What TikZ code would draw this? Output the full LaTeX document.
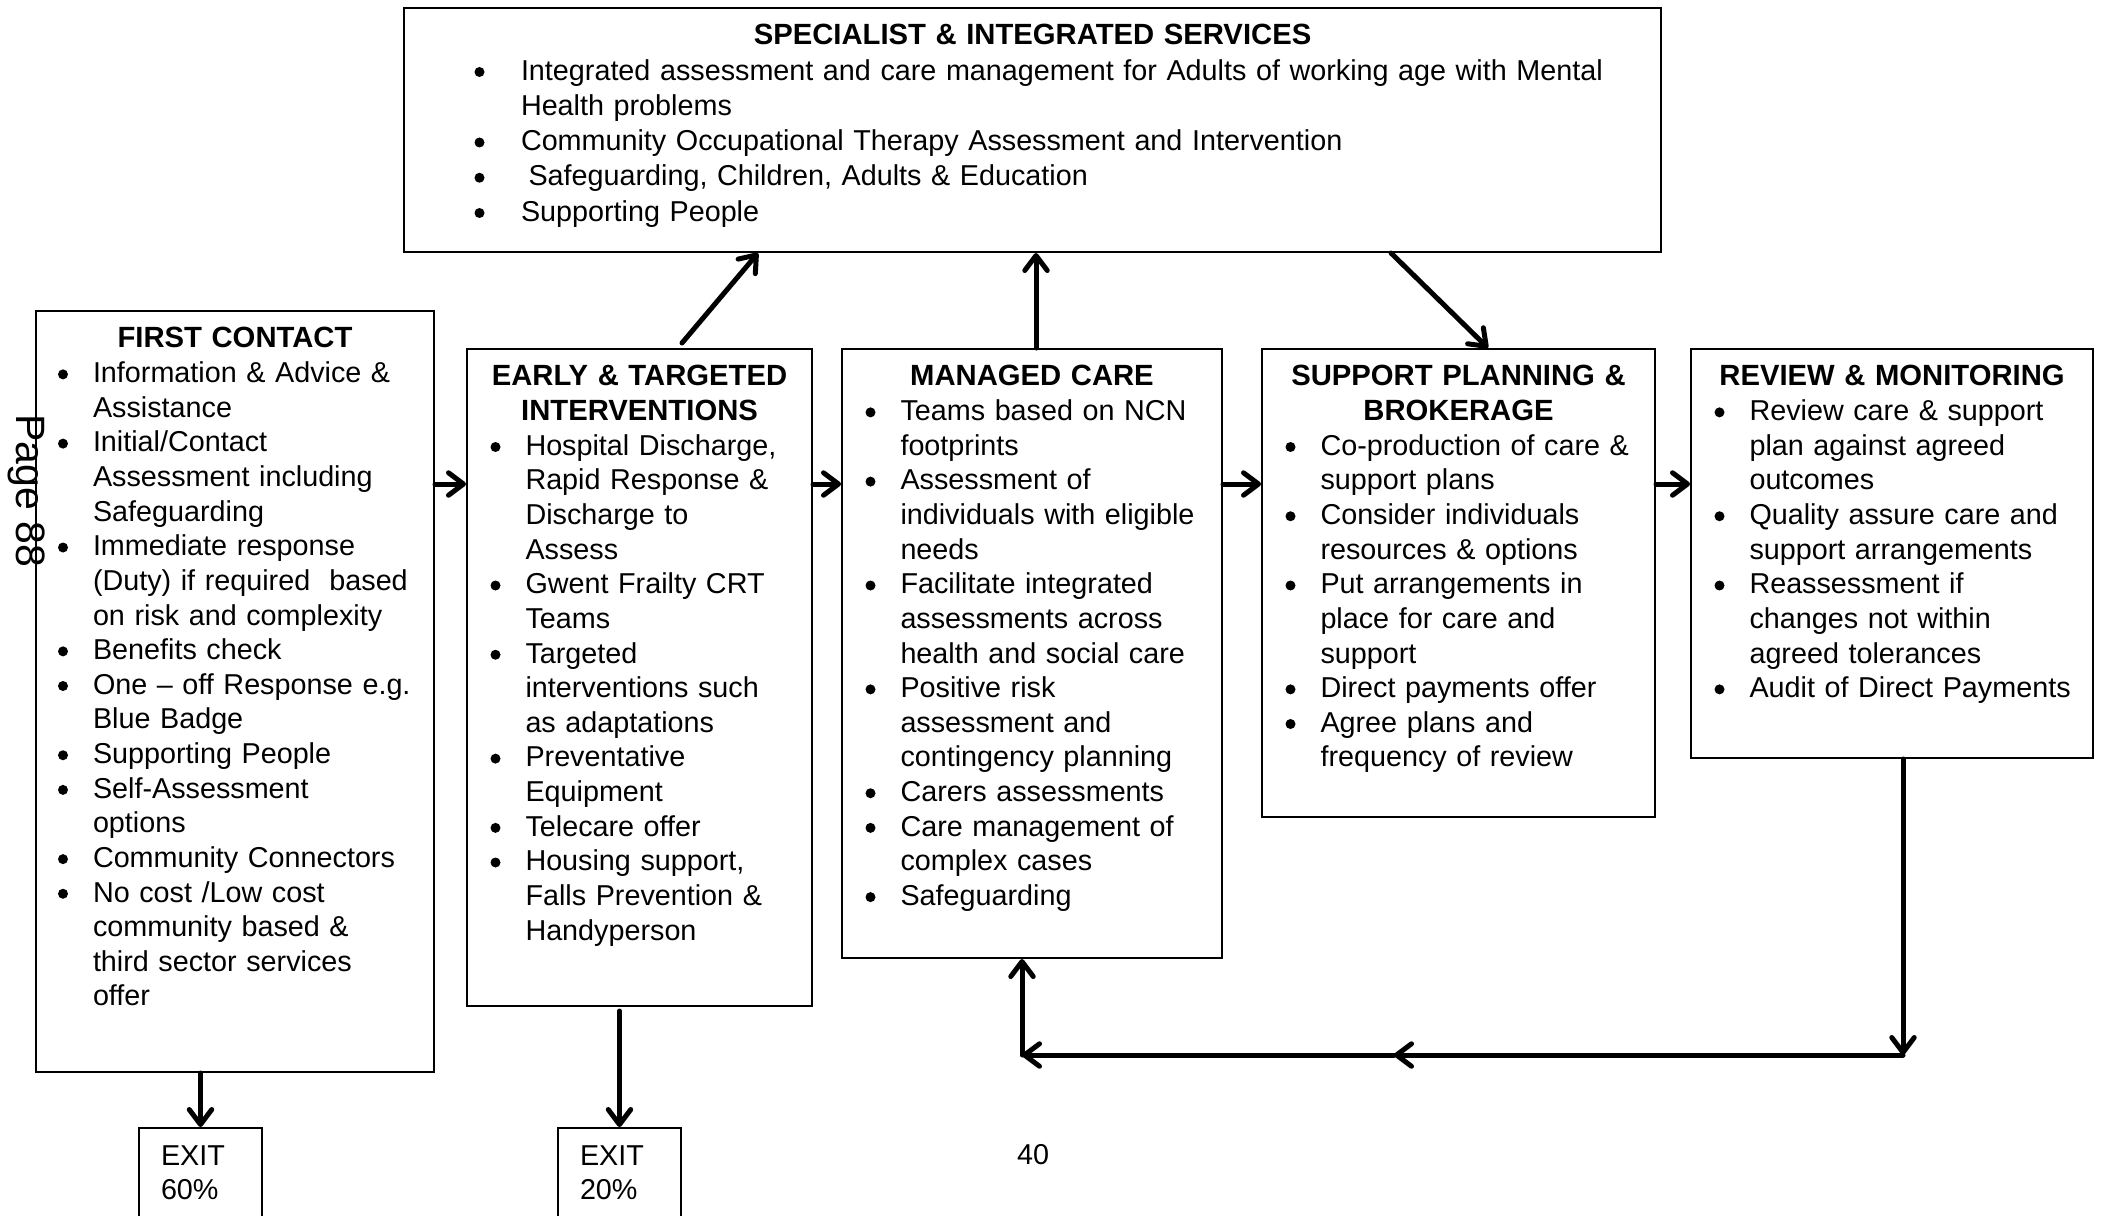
\documentclass[tikz,border=0pt]{standalone}
\usepackage{fontspec}
\setmainfont{Liberation Sans}
\usepackage{enumitem}
\usetikzlibrary{arrows.meta,calc,positioning}
\newcommand{\bigdot}{\raisebox{1.3pt}{\tikz\fill (0,0) circle (2pt);}}
\setlist[itemize]{label=\bigdot, leftmargin=21.4pt, labelsep=10pt, itemsep=0pt, topsep=0pt, parsep=0pt, partopsep=0pt}
\newcommand{\boxtitle}[1]{{\centering\fontsize{11.7}{13.85}\selectfont\bfseries\strut #1\par}}

\begin{document}
\begin{tikzpicture}[x=0.4pt, y=-0.4pt, >={Straight Barb[round,length=6pt,width=9pt]},
    box/.style={draw, line width=0.8pt, inner sep=0pt, anchor=north west},
    boxtext/.style={anchor=north, inner sep=0pt, align=left, yshift=-5.3pt, font=\fontsize{11.5}{13.85}\selectfont},
    exitbox/.style={draw, line width=0.8pt, anchor=north west, align=left, text width=31.6pt, inner xsep=8.8pt, inner ysep=7pt, font=\fontsize{11.5}{13.85}\selectfont},
    flow/.style={->, line width=2pt, line cap=round}]
    \useasboundingbox (0,0) rectangle (2101,1215);

    \node[box, minimum width=502.8pt, minimum height=97.6pt] (sis) at (403,7) {};
    \node[boxtext, text width=498.8pt, font=\fontsize{11.5}{14.1}\selectfont] (sistext) at (sis.north) {\boxtitle{SPECIALIST \& INTEGRATED SERVICES}
        \begin{itemize}[leftmargin=44.8pt, labelsep=14.6pt]
            \item Integrated assessment and care management for Adults of working age with Mental\\Health problems
            \item Community Occupational Therapy Assessment and Intervention
            \item \hspace{3pt}Safeguarding, Children, Adults \& Education
            \item Supporting People
        \end{itemize}};

    \node[box, minimum width=159.2pt, minimum height=304.4pt] (fc) at (35,310) {};
    \node[boxtext, text width=155.2pt] (fctext) at (fc.north) {\boxtitle{FIRST CONTACT}
        \begin{itemize}[leftmargin=20.8pt]
            \item Information \& Advice \&\\Assistance
            \item Initial/Contact\\Assessment including\\Safeguarding
            \item Immediate response\\(Duty) if required \ based\\on risk and complexity
            \item Benefits check
            \item One -- off Response e.g.\\Blue Badge
            \item Supporting People
            \item Self-Assessment\\options
            \item Community Connectors
            \item No cost /Low cost\\community based \&\\third sector services\\offer
        \end{itemize}};

    \node[box, minimum width=138pt, minimum height=262.8pt] (et) at (466,348) {};
    \node[boxtext, text width=134pt] (ettext) at (et.north) {\boxtitle{EARLY \& TARGETED\\INTERVENTIONS}
        \begin{itemize}
            \item Hospital Discharge,\\Rapid Response \&\\Discharge to\\Assess
            \item Gwent Frailty CRT\\Teams
            \item Targeted\\interventions such\\as adaptations
            \item Preventative\\Equipment
            \item Telecare offer
            \item Housing support,\\Falls Prevention \&\\Handyperson
        \end{itemize}};

    \node[box, minimum width=152pt, minimum height=243.6pt] (mc) at (841,348) {};
    \node[boxtext, text width=148pt] (mctext) at (mc.north) {\boxtitle{MANAGED CARE}
        \begin{itemize}
            \item Teams based on NCN\\footprints
            \item Assessment of\\individuals with eligible\\needs
            \item Facilitate integrated\\assessments across\\health and social care
            \item Positive risk\\assessment and\\contingency planning
            \item Carers assessments
            \item Care management of\\complex cases
            \item Safeguarding
        \end{itemize}};

    \node[box, minimum width=157.2pt, minimum height=187.2pt] (sp) at (1261,348) {};
    \node[boxtext, text width=153.2pt] (sptext) at (sp.north) {\boxtitle{SUPPORT PLANNING \&\\BROKERAGE}
        \begin{itemize}
            \item Co-production of care \&\\support plans
            \item Consider individuals\\resources \& options
            \item Put arrangements in\\place for care and\\support
            \item Direct payments offer
            \item Agree plans and\\frequency of review
        \end{itemize}};

    \node[box, minimum width=160.8pt, minimum height=163.6pt] (rm) at (1690,348) {};
    \node[boxtext, text width=156.8pt] (rmtext) at (rm.north) {\boxtitle{REVIEW \& MONITORING}
        \begin{itemize}
            \item Review care \& support\\plan against agreed\\outcomes
            \item Quality assure care and\\support arrangements
            \item Reassessment if\\changes not within\\agreed tolerances
            \item Audit of Direct Payments
        \end{itemize}};

    \node[exitbox] (ex1) at (138,1127) {EXIT\\60\%};
    \node[exitbox] (ex2) at (557,1127) {EXIT\\20\%};

    \node[rotate=-90, font=\fontsize{16.4}{18}\selectfont] (pg) at (27,491) {Page 88};
    \node[font=\fontsize{11.5}{13.85}\selectfont] (pnum) at (1033,1155) {40};

    \coordinate (row) at (0,484);
    \draw[flow] (fc.east |- row) -- (et.west |- row);
    \draw[flow] (et.east |- row) -- (mc.west |- row);
    \draw[flow] (mc.east |- row) -- (sp.west |- row);
    \draw[flow] (sp.east |- row) -- (rm.west |- row);

    \draw[flow] ($(et.north)+(42.5,-5)$) -- ($(sis.south)+(-274.5,0)$);
    \draw[flow] ($(mc.north)+(4,0)$) -- ($(mc.north |- sis.south)+(4,0)$);
    \draw[flow] ($(sis.south)+(358.5,0)$) -- ($(sp.north)+(29.5,0)$);

    \coordinate (loopR) at (1903,1055);
    \coordinate (loopM) at (1394,1055);
    \coordinate (loopL) at (1022,1055);
    \draw[flow] (rm.south -| loopR) -- (loopR);
    \draw[flow] (loopR) -- (loopM);
    \draw[flow] (loopM) -- (loopL);
    \draw[flow] (loopL) -- (mc.south -| loopL);

    \draw[flow] (ex1.north |- fc.south) -- (ex1.north);
    \draw[flow] ($(ex2.north |- et.south)+(0,4)$) -- (ex2.north);
\end{tikzpicture}
\end{document}
